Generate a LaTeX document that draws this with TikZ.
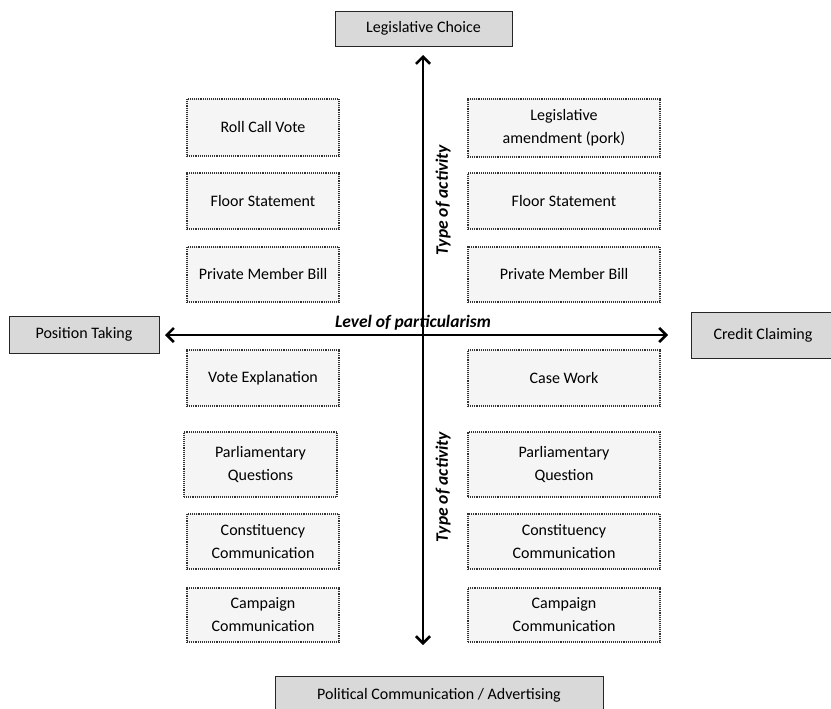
\documentclass[tikz,border=0pt]{standalone}
\usepackage{fontspec}
\setmainfont{Carlito}
\usetikzlibrary{arrows.meta,shadows}
\definecolor{boxgray}{HTML}{D9D9D9}
\definecolor{lightbox}{HTML}{F5F5F5}
\begin{document}
\begin{tikzpicture}[x=1pt,y=-1pt,
  catbox/.style={draw=black!85,line width=0.9pt,fill=boxgray,rectangle,inner sep=0pt,
     font=\fontsize{16}{19}\selectfont,
     drop shadow={shadow xshift=1.2pt,shadow yshift=-1.2pt,fill=black!60,opacity=0.6}},
  actbox/.style={draw=black!80,line width=1.1pt,densely dotted,fill=lightbox,rectangle,inner sep=0pt,
     align=center,font=\fontsize{16}{23}\selectfont},
  axis/.style={line width=2.8pt,{Straight Barb[length=7pt,width=14pt,line width=2.6pt]}-{Straight Barb[length=7pt,width=14pt,line width=2.6pt]}},
  axlabel/.style={font=\fontsize{17.5}{20}\selectfont\bfseries\itshape,inner sep=0pt}]
\useasboundingbox (0,0) rectangle (831,709);

% category boxes
\node[catbox,minimum width=177pt,minimum height=35pt] (lc) at (423.5,28.5) {Legislative Choice};
\node[catbox,minimum width=150pt,minimum height=37pt] (pt) at (84,334.5) {Position Taking};
\node[catbox,minimum width=144pt,minimum height=46pt] (cc) at (763,335) {Credit Claiming};
\node[catbox,minimum width=328pt,minimum height=38pt] (pc) at (439,695) {\raisebox{2pt}{Political Communication / Advertising}};

% axes
\coordinate (vtop) at (423,55);
\coordinate (vbot) at (423,645);
\coordinate (hleft) at (165,335);
\coordinate (hright) at (668,335);
\draw[axis] (vbot) -- (vtop);
\draw[axis] (hleft) -- (hright);

\node[axlabel] (lp) at (413,323) {Level of particularism};
\node[axlabel,rotate=90] (ta1) at (443,200) {Type of activity};
\node[axlabel,rotate=90] (ta2) at (443,487) {Type of activity};

% left column
\node[actbox,minimum width=152pt,minimum height=57pt] (l1) at (263,127.5) {Roll Call Vote};
\node[actbox,minimum width=152pt,minimum height=56pt] (l2) at (263,201) {Floor Statement};
\node[actbox,minimum width=152pt,minimum height=55pt] (l3) at (263,274.5) {Private Member Bill};
\node[actbox,minimum width=152pt,minimum height=56pt] (l4) at (263,378) {Vote Explanation};
\node[actbox,minimum width=153pt,minimum height=65pt] (l5) at (260.5,464.5) {Parliamentary\\Questions};
\node[actbox,minimum width=152pt,minimum height=55pt] (l6) at (263,541.5) {Constituency\\Communication};
\node[actbox,minimum width=152pt,minimum height=54pt] (l7) at (263,615) {Campaign\\Communication};

% right column
\node[actbox,minimum width=192pt,minimum height=58pt] (r1) at (564,128) {Legislative\\amendment (pork)};
\node[actbox,minimum width=192pt,minimum height=56pt] (r2) at (564,201) {Floor Statement};
\node[actbox,minimum width=192pt,minimum height=55pt] (r3) at (564,274.5) {Private Member Bill};
\node[actbox,minimum width=192pt,minimum height=56pt] (r4) at (564,378) {Case Work};
\node[actbox,minimum width=192pt,minimum height=65pt] (r5) at (564,464.5) {Parliamentary\\Question};
\node[actbox,minimum width=192pt,minimum height=55pt] (r6) at (564,541.5) {Constituency\\Communication};
\node[actbox,minimum width=192pt,minimum height=54pt] (r7) at (564,615) {Campaign\\Communication};
\end{tikzpicture}
\end{document}
